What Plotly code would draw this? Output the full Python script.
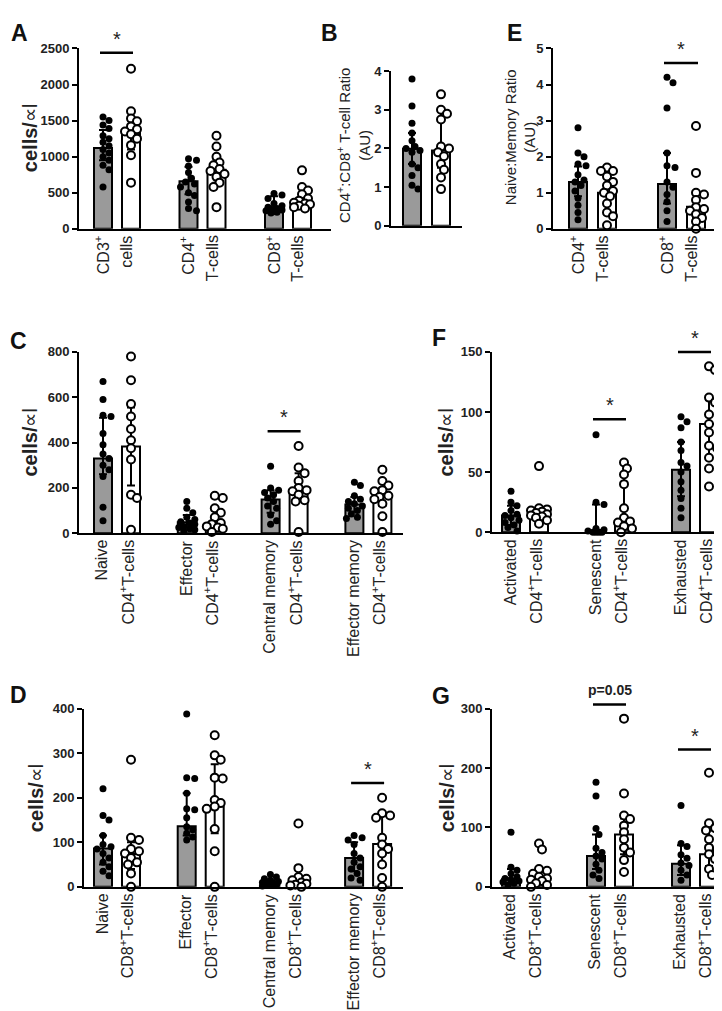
import plotly.graph_objects as go

W, H = 722, 1011
GRAY = "#9a9a9a"
FONT = "Liberation Sans, Arial, sans-serif"

# ---------------- data ----------------
# Panel A : cells/µl
A_top = ["CD3<sup>+</sup>", "CD4<sup>+</sup>", "CD8<sup>+</sup>"]
A_bottom = ["cells", "T-cells", "T-cells"]
A_ctrl_pts = [
    [1550, 1500, 1440, 1390, 1290, 1250, 1200, 1150, 1100, 1050, 1000, 950, 880, 820, 580],
    [970, 950, 870, 780, 700, 650, 620, 580, 500, 460, 370, 280, 250],
    [490, 470, 420, 350, 320, 300, 280, 270, 260, 250, 240, 230, 220],
]
A_case_pts = [
    [2220, 1630, 1530, 1490, 1420, 1380, 1350, 1310, 1250, 1160, 1020, 640],
    [1290, 1140, 1000, 920, 880, 830, 800, 760, 720, 640, 580, 300],
    [810, 580, 530, 480, 420, 390, 360, 350, 340, 320, 300, 280],
]
A_ctrl_bar = [1120, 660, 275]
A_ctrl_lo = [950, 480, 240]
A_ctrl_hi = [1370, 860, 450]
A_case_bar = [1330, 820, 370]
A_case_lo = [1100, 640, 320]
A_case_hi = [1500, 960, 480]
A_sig = [(0, 2440, "*")]

# Panel B : CD4:CD8 ratio
B_top = []
B_bottom = []
B_ctrl_pts = [[3.8, 3.1, 2.65, 2.4, 2.2, 2.05, 2.0, 1.95, 1.9, 1.6, 1.5, 1.3, 1.05, 0.95]]
B_case_pts = [[3.4, 3.0, 2.9, 2.75, 2.05, 2.0, 1.9, 1.8, 1.6, 1.45, 1.25, 0.95]]
B_ctrl_bar = [1.99]
B_ctrl_lo = [1.6]
B_ctrl_hi = [2.4]
B_case_bar = [1.95]
B_case_lo = [1.5]
B_case_hi = [2.95]
B_sig = []

# Panel E : Naive:Memory ratio
E_top = ["CD4<sup>+</sup>", "CD8<sup>+</sup>"]
E_bottom = ["T-cells", "T-cells"]
E_ctrl_pts = [
    [2.8, 2.1, 2.0, 1.8, 1.75, 1.5, 1.35, 1.3, 1.2, 1.05, 0.85, 0.65, 0.45, 0.25],
    [4.2, 4.05, 3.35, 2.1, 1.75, 1.7, 1.3, 1.15, 0.95, 0.75, 0.5, 0.2],
]
E_case_pts = [
    [1.7, 1.6, 1.6, 1.45, 1.3, 1.2, 1.05, 1.0, 0.9, 0.7, 0.45, 0.35, 0.1],
    [2.85, 1.55, 1.0, 0.95, 0.8, 0.6, 0.55, 0.5, 0.4, 0.3, 0.2, 0.0],
]
E_ctrl_bar = [1.3, 1.24]
E_ctrl_lo = [0.9, 0.7]
E_ctrl_hi = [1.73, 2.1]
E_case_bar = [1.0, 0.61]
E_case_lo = [0.5, 0.3]
E_case_hi = [1.5, 1.0]
E_sig = [(1, 4.6, "*")]

# Panel C : CD4 subsets
C_top = ["Naive", "Effector", "Central memory", "Effector memory"]
C_bottom = ["CD4<sup>+</sup>T-cells"] * 4
C_ctrl_pts = [
    [670, 590, 520, 515, 440, 390, 350, 330, 300, 280, 250, 115, 55],
    [140, 110, 90, 70, 60, 50, 45, 40, 30, 25, 20, 15, 10],
    [295, 200, 190, 180, 170, 155, 140, 120, 110, 80, 55, 40],
    [225, 210, 165, 150, 140, 130, 120, 110, 100, 85, 70, 65],
]
C_case_pts = [
    [780, 675, 570, 515, 460, 410, 375, 325, 170, 155, 15],
    [165, 155, 110, 90, 70, 45, 40, 30, 25, 20, 5],
    [385, 290, 265, 230, 200, 190, 185, 170, 145, 140, 5],
    [280, 230, 210, 190, 185, 165, 160, 150, 130, 75, 5],
]
C_ctrl_bar = [330, 48, 149, 127]
C_ctrl_lo = [260, 25, 90, 95]
C_ctrl_hi = [510, 80, 190, 160]
C_case_bar = [383, 35, 192, 160]
C_case_lo = [210, 15, 150, 120]
C_case_hi = [555, 100, 265, 200]
C_sig = [(2, 450, "*")]

# Panel D : CD8 subsets
D_top = ["Naive", "Effector", "Central memory", "Effector memory"]
D_bottom = ["CD8<sup>+</sup>T-cells"] * 4
D_ctrl_pts = [
    [220, 160, 150, 115, 95, 90, 85, 75, 65, 55, 45, 35, 25],
    [388, 245, 243, 210, 175, 173, 155, 135, 128, 120, 112, 105],
    [28, 22, 18, 15, 12, 10, 8, 6, 5, 3, 2],
    [115, 110, 105, 95, 75, 65, 55, 45, 40, 30, 20, 15],
]
D_case_pts = [
    [285, 110, 105, 85, 80, 75, 65, 55, 50, 30, 0],
    [340, 295, 285, 245, 243, 195, 188, 180, 175, 130, 80, 0],
    [142, 42, 22, 18, 15, 10, 7, 5, 3, 0],
    [200, 165, 160, 155, 110, 95, 85, 75, 50, 20, 0],
]
D_ctrl_bar = [86, 136, 6, 65]
D_ctrl_lo = [50, 115, 3, 35]
D_ctrl_hi = [115, 210, 15, 100]
D_case_bar = [74, 180, 8, 96]
D_case_lo = [40, 120, 3, 45]
D_case_hi = [100, 275, 20, 160]
D_sig = [(3, 233, "*")]

# Panel F : CD4 activation states
F_top = ["Activated", "Senescent", "Exhausted"]
F_bottom = ["CD4<sup>+</sup>T-cells"] * 3
F_ctrl_pts = [
    [34, 25, 22, 18, 15, 14, 12, 10, 8, 6, 4, 1],
    [81, 25, 23, 3, 2, 1, 0, 0, 0, 0],
    [96, 92, 87, 75, 68, 58, 55, 50, 42, 35, 28, 20, 12],
]
F_case_pts = [
    [55, 20, 19, 18, 17, 16, 15, 14, 13, 12, 10, 7],
    [58, 53, 48, 40, 20, 12, 9, 8, 5, 3, 0],
    [138, 135, 112, 108, 98, 90, 83, 72, 70, 62, 53, 38],
]
F_ctrl_bar = [14, 1, 52]
F_ctrl_lo = [6, 0, 30]
F_ctrl_hi = [22, 23, 75]
F_case_bar = [14.5, 8, 90]
F_case_lo = [10, 2, 62]
F_case_hi = [18, 48, 110]
F_sig = [(1, 94, "*"), (2, 150, "*")]

# Panel G : CD8 activation states
G_top = ["Activated", "Senescent", "Exhausted"]
G_bottom = ["CD8<sup>+</sup>T-cells"] * 3
G_ctrl_pts = [
    [92, 33, 28, 22, 17, 14, 12, 10, 8, 6, 3],
    [176, 153, 98, 88, 65, 58, 52, 47, 38, 28, 20, 14],
    [137, 73, 68, 54, 48, 40, 36, 28, 20, 11],
]
G_case_pts = [
    [73, 63, 30, 27, 22, 17, 14, 12, 10, 6, 3, 0],
    [283, 157, 120, 114, 103, 92, 80, 66, 58, 45, 25],
    [192, 107, 99, 95, 80, 66, 62, 55, 47, 30, 20],
]
G_ctrl_bar = [13, 52, 39]
G_ctrl_lo = [5, 30, 20]
G_ctrl_hi = [30, 88, 70]
G_case_bar = [11, 88, 55]
G_case_lo = [4, 55, 35]
G_case_hi = [25, 115, 95]
G_sig = [(1, 307, "p=0.05"), (2, 231, "*")]

# ---------------- layout (pixel geometry) ----------------
CFG = {
    "A": dict(x0=71, x1=323, c0=109, sp=85.5, off=14, yt=34, yb=217, ymax=2500, dtick=500),
    "B": dict(x0=383, x1=454, c0=418.5, sp=85, off=14.5, yt=57, yb=214, ymax=4, dtick=1),
    "E": dict(x0=545, x1=710, c0=584.5, sp=89, off=14.5, yt=34, yb=217, ymax=5, dtick=1),
    "C": dict(x0=71, x1=395, c0=109, sp=83.8, off=14, yt=342, yb=526, ymax=800, dtick=200),
    "D": dict(x0=76, x1=395, c0=109, sp=83.7, off=14, yt=704, yb=885, ymax=400, dtick=100),
    "F": dict(x0=484, x1=718, c0=517, sp=85, off=14, yt=342, yb=525, ymax=150, dtick=50),
    "G": dict(x0=484, x1=722, c0=517, sp=85, off=14, yt=704, yb=885, ymax=300, dtick=100),
}

fig = go.Figure()


def swarm(vals, ppu, d=6.5):
    cands = [0, 3, -3, 6, -6, 8, -8]
    order = sorted(range(len(vals)), key=lambda i: -vals[i])
    placed = []
    res = [0] * len(vals)
    for i in order:
        y = vals[i] * ppu
        chosen, bestc, bestd = None, 0, -1
        for c in cands:
            md = min([((c - px) ** 2 + (y - py) ** 2) ** 0.5 for px, py in placed] or [1e9])
            if md >= d:
                chosen = c
                break
            if md > bestd:
                bestd, bestc = md, c
        if chosen is None:
            chosen = bestc
        placed.append((chosen, y))
        res[i] = chosen
    return res


def px_x(px):
    return px / W


def px_y(py):
    return 1 - py / H


def add_panel(k, cfg, top, bottom, cpts, tpts, cbar, clo, chi, tbar, tlo, thi, sigs):
    xa = "x" if k == 1 else f"x{k}"
    ya = "y" if k == 1 else f"y{k}"
    sp, off = cfg["sp"], cfg["off"]
    xr = [(cfg["x0"] - cfg["c0"]) / sp, (cfg["x1"] - cfg["c0"]) / sp]
    ng = len(cbar)
    o = off / sp
    bw = 18 / sp
    ppu = (cfg["yb"] - cfg["yt"]) / cfg["ymax"]
    xc = [i - o for i in range(ng)]
    xt = [i + o for i in range(ng)]
    fig.add_trace(go.Bar(
        x=xc, y=cbar, width=bw, marker=dict(color=GRAY, line=dict(color="black", width=2)),
        error_y=dict(type="data", symmetric=False, array=[h - b for h, b in zip(chi, cbar)],
                     arrayminus=[b - l for b, l in zip(cbar, clo)], color="black", thickness=2, width=4),
        xaxis=xa, yaxis=ya, hoverinfo="skip"))
    fig.add_trace(go.Bar(
        x=xt, y=tbar, width=bw, marker=dict(color="white", line=dict(color="black", width=2)),
        error_y=dict(type="data", symmetric=False, array=[h - b for h, b in zip(thi, tbar)],
                     arrayminus=[b - l for b, l in zip(tbar, tlo)], color="black", thickness=2, width=4),
        xaxis=xa, yaxis=ya, hoverinfo="skip"))
    for i in range(ng):
        offs = swarm(cpts[i], ppu)
        fig.add_trace(go.Scatter(
            x=[xc[i] + v / sp for v in offs], y=cpts[i], mode="markers", cliponaxis=False,
            marker=dict(size=7, color="black", line=dict(width=0)), xaxis=xa, yaxis=ya, hoverinfo="skip"))
        offs = swarm(tpts[i], ppu)
        fig.add_trace(go.Scatter(
            x=[xt[i] + v / sp for v in offs], y=tpts[i], mode="markers", cliponaxis=False,
            marker=dict(size=8, color="white", line=dict(width=2, color="black")),
            xaxis=xa, yaxis=ya, hoverinfo="skip"))
    xkey = "xaxis" if k == 1 else f"xaxis{k}"
    ykey = "yaxis" if k == 1 else f"yaxis{k}"
    fig.update_layout(**{
        xkey: dict(domain=[px_x(cfg["x0"]), px_x(cfg["x1"])], range=xr, anchor=ya,
                   showline=True, linecolor="black", linewidth=2, ticks="", showticklabels=False,
                   showgrid=False, zeroline=False, fixedrange=True),
        ykey: dict(domain=[px_y(cfg["yb"]), px_y(cfg["yt"])], range=[0, cfg["ymax"]], anchor=xa,
                   tick0=0, dtick=cfg["dtick"], ticks="outside", ticklen=5, tickwidth=2, tickcolor="black",
                   showline=True, linecolor="black", linewidth=2, showgrid=False, zeroline=False,
                   tickfont=dict(family=FONT, size=13, color="#222", weight="bold"), fixedrange=True),
    })
    lab_font = dict(family=FONT, size=16, color="#222")
    for i, (t, b) in enumerate(zip(top, bottom)):
        gx = cfg["c0"] + i * sp - off
        wx = cfg["c0"] + i * sp + off
        fig.add_annotation(x=px_x(gx - 1), y=px_y(cfg["yb"] + 5), xref="paper", yref="paper", text=t,
                           textangle=-90, xanchor="center", yanchor="top", showarrow=False, font=lab_font)
        fig.add_annotation(x=px_x(wx - 4), y=px_y(cfg["yb"] + 5), xref="paper", yref="paper", text=b,
                           textangle=-90, xanchor="center", yanchor="top", showarrow=False, font=lab_font)
    for g, yv, txt in sigs:
        x1 = cfg["c0"] + g * sp - off - 3
        x2 = cfg["c0"] + g * sp + off + 2
        yp = cfg["yb"] - yv * ppu
        fig.add_shape(type="line", xref="paper", yref="paper", x0=px_x(x1), x1=px_x(x2),
                      y0=px_y(yp), y1=px_y(yp), line=dict(color="black", width=2.5))
        if txt == "*":
            fig.add_annotation(x=px_x((x1 + x2) / 2), y=px_y(yp - 1), xref="paper", yref="paper", text=txt,
                               xanchor="center", yanchor="bottom", showarrow=False,
                               font=dict(family=FONT, size=20, color="#222"))
        else:
            fig.add_annotation(x=px_x((x1 + x2) / 2), y=px_y(yp - 4), xref="paper", yref="paper", text=txt,
                               xanchor="center", yanchor="bottom", showarrow=False,
                               font=dict(family=FONT, size=14, color="#222", weight="bold"))


add_panel(1, CFG["A"], A_top, A_bottom, A_ctrl_pts, A_case_pts, A_ctrl_bar, A_ctrl_lo, A_ctrl_hi,
          A_case_bar, A_case_lo, A_case_hi, A_sig)
add_panel(2, CFG["B"], B_top, B_bottom, B_ctrl_pts, B_case_pts, B_ctrl_bar, B_ctrl_lo, B_ctrl_hi,
          B_case_bar, B_case_lo, B_case_hi, B_sig)
add_panel(3, CFG["E"], E_top, E_bottom, E_ctrl_pts, E_case_pts, E_ctrl_bar, E_ctrl_lo, E_ctrl_hi,
          E_case_bar, E_case_lo, E_case_hi, E_sig)
add_panel(4, CFG["C"], C_top, C_bottom, C_ctrl_pts, C_case_pts, C_ctrl_bar, C_ctrl_lo, C_ctrl_hi,
          C_case_bar, C_case_lo, C_case_hi, C_sig)
add_panel(5, CFG["F"], F_top, F_bottom, F_ctrl_pts, F_case_pts, F_ctrl_bar, F_ctrl_lo, F_ctrl_hi,
          F_case_bar, F_case_lo, F_case_hi, F_sig)
add_panel(6, CFG["D"], D_top, D_bottom, D_ctrl_pts, D_case_pts, D_ctrl_bar, D_ctrl_lo, D_ctrl_hi,
          D_case_bar, D_case_lo, D_case_hi, D_sig)
add_panel(7, CFG["G"], G_top, G_bottom, G_ctrl_pts, G_case_pts, G_ctrl_bar, G_ctrl_lo, G_ctrl_hi,
          G_case_bar, G_case_lo, G_case_hi, G_sig)

# y-axis titles
title_font = dict(family=FONT, size=20, color="#222")
cells = "<b>cells/</b>∝l"
for (tx, ty) in [(22, 125), (22, 434), (28, 794), (438, 434), (439, 795)]:
    fig.add_annotation(x=px_x(tx), y=px_y(ty), xref="paper", yref="paper", text=cells, textangle=-90,
                       xanchor="center", yanchor="middle", showarrow=False, font=title_font)
fig.add_annotation(x=px_x(345), y=px_y(133), xref="paper", yref="paper",
                   text="CD4<sup>+</sup>:CD8<sup>+</sup> T-cell Ratio<br>(AU)", textangle=-90,
                   xanchor="center", yanchor="middle", showarrow=False,
                   font=dict(family=FONT, size=15, color="#222"))
fig.add_annotation(x=px_x(512), y=px_y(124), xref="paper", yref="paper",
                   text="Naive:Memory Ratio<br>(AU)", textangle=-90,
                   xanchor="center", yanchor="middle", showarrow=False,
                   font=dict(family=FONT, size=15, color="#222"))

# panel letters
for letter, lx, ly in [("A", 1, 3), ("B", 311, 3), ("E", 497, 3), ("C", 0, 316),
                       ("F", 422, 313), ("D", 0, 675), ("G", 422, 676)]:
    fig.add_annotation(x=px_x(lx), y=px_y(ly), xref="paper", yref="paper", text=f"<b>{letter}</b>",
                       xanchor="left", yanchor="top", showarrow=False,
                       font=dict(family=FONT, size=23, color="#111"))

fig.update_layout(width=W, height=H, margin=dict(l=0, r=0, t=0, b=0), barmode="overlay",
                  plot_bgcolor="white", paper_bgcolor="white", showlegend=False)

fig.write_html("out.html")
